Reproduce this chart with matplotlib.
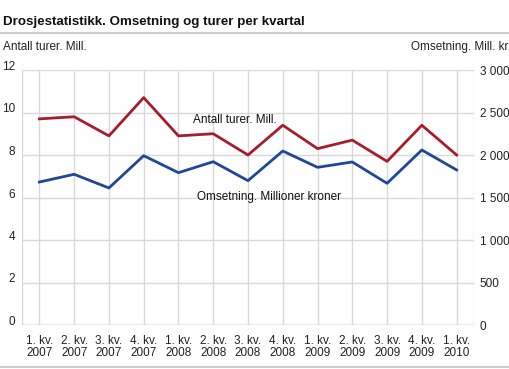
import matplotlib
matplotlib.use("Agg")
import matplotlib.pyplot as plt
from matplotlib.lines import Line2D

plt.rcParams['font.family'] = ['Liberation Sans', 'DejaVu Sans']

categories = ["1. kv.\n2007", "2. kv.\n2007", "3. kv.\n2007", "4. kv.\n2007",
              "1. kv.\n2008", "2. kv.\n2008", "3. kv.\n2008", "4. kv.\n2008",
              "1. kv.\n2009", "2. kv.\n2009", "3. kv.\n2009", "4. kv.\n2009",
              "1. kv.\n2010"]
turer = [9.7, 9.8, 8.9, 10.7, 8.9, 9.0, 8.0, 9.4, 8.3, 8.7, 7.7, 9.4, 8.0]
omsetning = [1682, 1773, 1612, 1992, 1792, 1921, 1698, 2047, 1855, 1918, 1667, 2059, 1824]
left_ticks = [0, 2, 4, 6, 8, 10, 12]
right_ticks = [0, 500, 1000, 1500, 2000, 2500, 3000]
right_labels = ["0", "500", "1 000", "1 500", "2 000", "2 500", "3 000"]

red = "#a51d2d"
blue = "#1f4799"
grid = "#d9d9d9"
fs = 8.5

fig = plt.figure(figsize=(5.10, 3.69), dpi=100)
W, H = 510, 369
ax = fig.add_axes([22 / W, 1 - 325 / H, (474 - 22) / W, (325 - 70) / H])
ax2 = ax.twinx()

x = list(range(len(categories)))
ax.plot(x, turer, color=red, lw=2, zorder=3)
ax2.plot(x, omsetning, color=blue, lw=2, zorder=3)

ax.set_xlim(-0.5, len(categories) - 0.5)
ax.set_ylim(0, 12)
ax2.set_ylim(0, 3000)
ax.set_xticks(x)
ax.set_xticklabels(categories, fontsize=fs, color="#222222", linespacing=1.05)
ax.set_yticks(left_ticks)
ax.set_yticklabels([str(v) for v in left_ticks], fontsize=fs, color="#222222")
ax2.set_yticks(right_ticks)
ax2.set_yticklabels(right_labels, fontsize=fs, color="#222222")

ax.tick_params(axis='x', length=0, pad=7)
ax.tick_params(axis='y', length=0, pad=0)
ax2.tick_params(axis='y', length=0, pad=4)
for t in ax.get_yticklabels():
    t.set_verticalalignment('baseline')
    t.set_horizontalalignment('right')
    t.set_x(-7 / (474 - 22))

ax.grid(True, color=grid, lw=1, zorder=0)
ax.set_axisbelow(True)
for a in (ax, ax2):
    for s in ("top", "left", "right", "bottom"):
        a.spines[s].set_visible(False)
ax.axhline(0, color="#bbbbbb", lw=1, zorder=2)
ax.axvline(-0.5, color=grid, lw=1, zorder=1)
ax.axvline(len(categories) - 0.5, color=grid, lw=1, zorder=1)

ax.text(193 / W, 1 - 120 / H, "Antall turer. Mill.", transform=fig.transFigure,
        fontsize=fs, va="center", ha="left", color="#111111")
ax.text(197 / W, 1 - 197 / H, "Omsetning. Millioner kroner", transform=fig.transFigure,
        fontsize=fs, va="center", ha="left", color="#111111")

fig.text(3 / W, 1 - 22 / H, "Drosjestatistikk. Omsetning og turer per kvartal",
         fontsize=9.6, fontweight="bold", va="center", ha="left", color="#111111")
fig.text(3 / W, 1 - 47 / H, "Antall turer. Mill.", fontsize=fs, va="center", ha="left", color="#222222")
fig.text(508 / W, 1 - 47 / H, "Omsetning. Mill. kr", fontsize=fs, va="center", ha="right", color="#222222")

fig.add_artist(Line2D([0, 1], [1 - 33 / H, 1 - 33 / H], transform=fig.transFigure,
                      color="#cccccc", lw=1.5))
fig.add_artist(Line2D([0, 1], [1 - 367 / H, 1 - 367 / H], transform=fig.transFigure,
                      color="#cccccc", lw=1.5))

fig.savefig("out.png", dpi=100)
